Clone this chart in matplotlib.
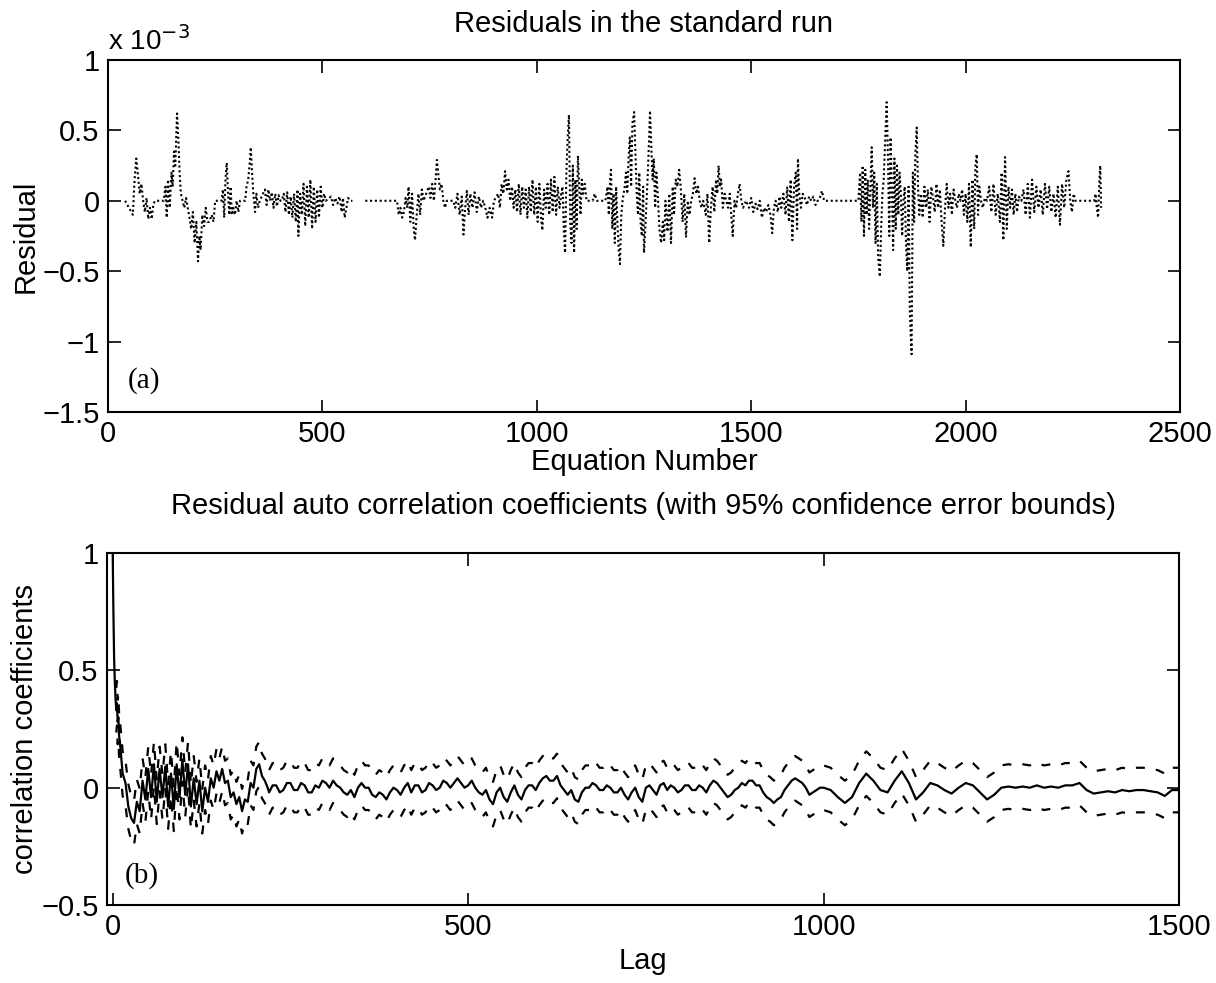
import numpy as np
import matplotlib
matplotlib.use("Agg")
import matplotlib.pyplot as plt

plt.rcParams['font.family'] = ['Liberation Sans', 'DejaVu Sans']

# ---- panel (a): residuals (units of 1e-3) ----
eq_num = [
    40, 58, 62, 66, 70, 74, 78, 82, 86, 90, 94, 98, 102, 106, 110, 130,
    134, 137, 140, 144, 148, 151, 154, 157, 161, 164, 167, 170, 174, 178, 182, 186,
    190, 194, 198, 202, 206, 210, 213, 216, 220, 224, 228, 232, 236, 242, 246, 250, 265,
    268, 271, 274, 277, 280, 283, 286, 289, 292, 296, 300, 304, 308, 320,
    323, 327, 330, 333, 336, 339, 343, 346, 350, 354, 366, 370, 374, 378, 382, 386, 390, 394, 398, 402,
    405, 410, 414, 418, 422, 426, 430, 434, 438, 442, 444, 448, 452, 456, 460, 464, 468, 472, 476, 480,
    484, 488, 492, 496, 500, 504, 508, 520, 525, 530, 535, 540, 545, 548, 552, 556, 560, 565, 570,
    585, 600, 674,
    678, 682, 686, 690, 694, 698, 701, 705, 709, 713, 716, 720, 724, 728, 732, 736, 748, 752, 756, 760,
    764, 767, 770, 774, 778, 782, 786, 790, 805, 810, 815, 820, 825, 829, 833, 837, 841, 845, 850, 855,
    860, 865, 870, 875, 880, 885, 890, 896, 900,
    910, 914, 918, 922, 926, 930, 934, 938, 942, 946, 950, 954, 958, 962, 966, 970, 974, 978, 982, 986,
    990, 994, 998, 1002, 1006, 1010, 1013, 1017, 1021, 1025, 1029, 1033, 1037, 1041, 1045, 1049, 1053, 1057,
    1060, 1063, 1066, 1069, 1072, 1075, 1078, 1081, 1084, 1087, 1090, 1093, 1096, 1099, 1102, 1105, 1108,
    1112, 1116, 1130, 1135, 1140, 1160,
    1165, 1168, 1171, 1173, 1176, 1179, 1182, 1185, 1188, 1191, 1194, 1197, 1200, 1205, 1208, 1211, 1214,
    1217, 1220, 1223, 1227, 1230, 1233, 1236, 1239, 1242, 1245, 1248, 1250, 1253, 1256, 1259, 1262, 1264,
    1267, 1270, 1273, 1276, 1279, 1282, 1286, 1290, 1294, 1297, 1300,
    1305, 1309, 1313, 1317, 1320, 1324, 1328, 1332, 1336, 1340, 1344, 1348, 1352, 1356, 1360, 1364, 1368,
    1372, 1376, 1380, 1384, 1388, 1394, 1398, 1402, 1406, 1410, 1414, 1418, 1421, 1424, 1427, 1430, 1434,
    1438, 1442, 1446, 1450, 1454, 1457, 1461, 1465, 1469, 1473, 1477, 1481,
    1488, 1495, 1500, 1505, 1510, 1515, 1520, 1525, 1530, 1535, 1540, 1545, 1549, 1553, 1557, 1562, 1566,
    1570, 1575, 1580, 1584, 1588, 1592, 1596, 1600, 1604, 1607, 1609, 1612, 1616, 1620, 1625, 1630, 1635,
    1640, 1645, 1650, 1655, 1660, 1665, 1670, 1750,
    1754, 1757, 1760, 1763, 1766, 1769, 1772, 1775, 1778, 1781, 1784, 1787, 1790, 1793, 1796, 1800, 1803,
    1806, 1809, 1812, 1816, 1819, 1822, 1825, 1828, 1831, 1834, 1837, 1840, 1843, 1846, 1849, 1852, 1855,
    1858, 1861, 1864, 1867, 1870, 1874, 1877, 1880, 1883, 1886, 1889, 1892,
    1896, 1900, 1904, 1908, 1912, 1916, 1920, 1924, 1928, 1932, 1936, 1940, 1944, 1948, 1952, 1956, 1960,
    1964, 1968, 1972, 1976, 1980, 1984, 1988, 1992, 1996, 2000, 2004, 2008, 2012, 2016, 2020, 2023, 2026,
    2029, 2032, 2036, 2040, 2045, 2050,
    2055, 2060, 2065, 2070, 2075, 2080, 2084, 2088, 2092, 2096, 2100, 2104, 2108, 2112, 2116, 2120, 2124, 2130,
    2135, 2140, 2145, 2150, 2155, 2160, 2165, 2170, 2175, 2180, 2185, 2190, 2195, 2200, 2205, 2210, 2215,
    2220, 2225, 2230, 2235, 2240, 2244, 2248, 2252, 2256, 2300, 2303, 2306, 2309, 2312, 2314, 2316,
]
residual_e3 = [
    0.0, -0.10, 0.15, 0.30, 0.18, 0.05, 0.12, 0.0, -0.08, 0.02, -0.13, -0.05, -0.13, -0.02, 0.0, 0.0,
    0.10, -0.12, 0.15, -0.05, 0.20, 0.10, 0.35, 0.25, 0.62, 0.45, 0.20, 0.05, 0.0, -0.05, 0.02, -0.05,
    -0.12, -0.20, -0.08, -0.30, -0.15, -0.43, -0.25, -0.35, -0.10, -0.18, -0.05, -0.15, -0.15, -0.10, -0.15, 0.0, 0.0,
    0.08, -0.12, 0.15, 0.27, 0.05, -0.10, 0.10, -0.10, -0.05, -0.10, 0.0, -0.08, 0.0, 0.0,
    0.10, 0.15, 0.25, 0.38, 0.20, 0.05, -0.08, 0.05, -0.05, 0.0, 0.08, -0.03, 0.08, 0.0, 0.06, -0.05, 0.05, -0.04, 0.04, 0.0,
    0.0, 0.05, -0.08, 0.06, -0.10, 0.03, -0.12, 0.05, -0.15, 0.08, -0.25, 0.05, -0.10, 0.12, -0.18, 0.10, -0.12, 0.15, -0.20, 0.10,
    -0.15, 0.08, -0.12, 0.10, -0.05, 0.05, 0.0, 0.03, -0.03, 0.02, -0.02, 0.03, -0.08, 0.02, -0.12, -0.05, 0.02, 0.0, 0.0,
    np.nan, 0.0, 0.0,
    -0.10, -0.05, -0.12, -0.08, 0.02, -0.05, 0.10, -0.15, 0.05, -0.20, -0.28, -0.10, 0.05, -0.10, 0.08, 0.0, 0.10, 0.02, 0.12, 0.0,
    0.15, 0.29, 0.20, 0.08, 0.12, 0.0, -0.05, 0.0, 0.0, -0.05, 0.05, -0.10, 0.03, -0.24, -0.05, 0.07, -0.10, 0.05, -0.05, 0.06,
    -0.08, 0.03, -0.05, 0.0, -0.05, -0.12, -0.05, -0.12, 0.0,
    0.05, -0.05, 0.12, 0.05, 0.21, 0.08, 0.15, 0.0, 0.10, -0.05, 0.08, -0.08, 0.12, -0.10, 0.10, -0.05, 0.08, -0.12, 0.10, -0.08,
    0.15, -0.10, 0.10, -0.15, 0.12, -0.12, -0.21, 0.08, -0.05, 0.12, -0.10, 0.15, -0.08, 0.17, -0.10, 0.10, -0.05, 0.05,
    0.10, -0.20, -0.37, 0.20, 0.45, 0.61, -0.15, -0.30, 0.25, -0.37, 0.15, -0.20, 0.32, 0.10, -0.10, 0.15, 0.05,
    0.12, 0.0, 0.0, 0.05, 0.0, 0.0,
    0.10, -0.10, 0.15, 0.22, -0.20, 0.05, -0.30, 0.10, -0.15, -0.35, -0.45, -0.10, 0.0, 0.10, 0.20, 0.05, 0.30,
    0.45, 0.10, 0.55, 0.63, 0.35, 0.05, -0.10, 0.20, -0.15, -0.25, 0.10, -0.37, -0.20, 0.0, 0.20, 0.45, 0.64,
    0.40, 0.15, 0.30, -0.05, 0.20, 0.05, -0.20, -0.30, -0.15, -0.28, 0.0,
    -0.22, 0.05, -0.30, 0.10, -0.10, 0.15, 0.10, 0.22, 0.08, -0.15, 0.05, -0.26, 0.0, -0.10, 0.0, 0.05, 0.16,
    0.05, 0.10, 0.0, -0.05, 0.0, -0.10, 0.05, -0.30, -0.05, 0.10, -0.08, 0.15, 0.05, 0.25, 0.10, 0.15, -0.05,
    0.05, 0.0, -0.05, 0.05, -0.12, -0.25, 0.0, -0.05, 0.05, 0.12, 0.0, -0.05,
    0.0, -0.05, 0.02, -0.08, -0.02, -0.06, 0.0, -0.12, -0.05, -0.08, -0.03, -0.10, -0.23, -0.05, 0.0, -0.08, 0.03,
    -0.05, 0.05, -0.10, 0.10, -0.15, 0.15, -0.28, 0.10, 0.20, -0.20, 0.30, 0.05, -0.05, 0.05, 0.02, -0.03, 0.03,
    0.0, 0.03, -0.03, 0.0, 0.02, 0.07, 0.0, 0.0,
    0.20, -0.15, 0.25, -0.25, 0.22, -0.10, 0.15, -0.20, 0.10, 0.38, -0.05, 0.20, -0.30, 0.12, -0.40, -0.54, -0.20,
    0.05, 0.15, 0.40, 0.70, 0.30, -0.25, 0.45, 0.10, -0.35, 0.30, -0.20, 0.25, -0.10, 0.20, 0.05, -0.25, 0.0,
    0.10, -0.30, -0.50, 0.10, -0.80, -1.09, 0.20, -0.15, 0.35, 0.52, 0.10, -0.10,
    0.05, -0.12, 0.10, -0.05, 0.08, -0.15, 0.10, 0.02, -0.08, 0.12, -0.05, 0.08, -0.15, -0.32, -0.05, 0.12, -0.05,
    0.05, -0.10, 0.08, 0.0, -0.05, 0.05, 0.0, 0.08, -0.10, 0.05, -0.15, 0.12, -0.33, 0.15, -0.20, 0.25, 0.33,
    -0.10, 0.10, 0.0, -0.05, 0.02, 0.0,
    0.10, -0.08, 0.12, -0.10, 0.05, -0.15, 0.20, -0.28, 0.31, -0.20, 0.10, -0.05, 0.08, -0.10, 0.05, -0.08, 0.03, 0.0,
    0.08, -0.10, 0.12, -0.12, 0.15, -0.08, 0.10, -0.05, 0.08, -0.10, 0.12, -0.06, 0.10, -0.08, 0.05, -0.12, 0.10,
    -0.17, 0.12, -0.05, 0.15, 0.21, 0.0, -0.08, 0.05, 0.0, 0.0, 0.05, -0.05, -0.12, 0.15, 0.25, -0.05,
]
assert len(eq_num) == len(residual_e3)

# ---- panel (b): autocorrelation of residuals ----
acf_head = [1.0, 0.75, 0.55, 0.45, 0.38, 0.33, 0.36, 0.28, 0.30, 0.22]  # lags 0..9
acf_early = [  # lags 10..218, step 4
    0.20, 0.06, 0.02, -0.08, -0.13, -0.15, -0.06, -0.10, 0.03, -0.05,
    0.08, -0.04, 0.10, -0.06, 0.08, -0.04, 0.09, -0.08, 0.06, -0.09,
    0.10, -0.04, 0.12, -0.03, 0.10, -0.08, 0.04, -0.07, 0.03, -0.10,
    0.0, -0.06, 0.04, 0.0, 0.07, 0.03, 0.08, 0.02, 0.03, -0.04,
    -0.02, -0.07, -0.04, -0.10, -0.05, -0.06, 0.02, 0.0, 0.08, 0.10,
    0.05, 0.03, 0.0,
]
acf_mid = [  # lags 220..995, step 5
    -0.02, 0.01, 0.01, -0.02, -0.01, 0.02, 0.02, -0.01, -0.01, 0.02,
    0.01, -0.02, -0.02, 0.01, 0.0, 0.03, 0.02, 0.0, 0.03, 0.01,
    0.0, -0.02, -0.03, -0.01, -0.04, 0.0, 0.02, 0.0, 0.0, -0.03,
    -0.04, -0.02, -0.03, -0.05, -0.02, 0.0, -0.01, -0.03, 0.0, 0.02,
    -0.02, 0.01, 0.01, -0.02, -0.01, 0.02, 0.01, -0.01, 0.0, 0.03,
    0.02, 0.0, 0.02, 0.04, 0.02, 0.0, 0.01, 0.03, 0.0, -0.02,
    -0.03, -0.01, -0.05, -0.07, -0.02, 0.0, -0.04, -0.06, -0.02, 0.01,
    -0.03, -0.05, -0.01, 0.01, 0.01, -0.01, 0.02, 0.04, 0.05, 0.03,
    0.03, 0.05, 0.01, -0.01, -0.03, -0.01, -0.05, -0.06, -0.02, 0.0,
    0.0, 0.02, 0.01, -0.01, -0.01, 0.01, 0.0, -0.02, -0.02, 0.0,
    -0.03, -0.05, -0.02, 0.0, -0.04, -0.06, 0.0, 0.01, -0.01, -0.03,
    0.01, 0.02, -0.01, 0.01, 0.0, -0.02, -0.01, 0.01, 0.01, -0.01,
    -0.01, 0.01, 0.0, -0.02, 0.01, 0.03, 0.02, 0.0, -0.02, -0.04,
    -0.03, -0.01, 0.0, 0.02, 0.01, 0.03, 0.03, 0.01, 0.01, -0.02,
    -0.04, -0.05, -0.065, -0.05, -0.04, -0.01, 0.01, 0.03, 0.04, 0.03,
    0.02, 0.0, -0.03, -0.02, -0.01, 0.0,
]
acf_late = [  # lags 1000..1500, step 10
    0.0, -0.01, -0.04, -0.065, -0.04, 0.02, 0.06, 0.03, -0.01, -0.02,
    0.03, 0.07, 0.02, -0.05, -0.02, 0.02, 0.01, -0.01, -0.025, 0.0,
    0.02, 0.01, -0.02, -0.05, -0.03, 0.0, 0.005, 0.0, 0.005, 0.0,
    0.01, 0.0, 0.005, 0.0, 0.01, 0.01, 0.02, -0.01, -0.025, -0.02,
    -0.015, -0.02, -0.01, -0.015, -0.01, -0.01, -0.015, -0.02, -0.035, -0.01,
    -0.01,
]
bound_halfwidth = 0.095  # 95% confidence band half-width
bound_start = 5  # bounds drawn from this index on

lags = np.concatenate([np.arange(0, 10), np.arange(10, 220, 4),
                       np.arange(220, 1000, 5), np.arange(1000, 1501, 10)])
acf = np.array(acf_head + acf_early + acf_mid + acf_late)
assert len(lags) == len(acf)

fig = plt.figure(figsize=(12.16, 9.83), dpi=100)
fs = 21

# ---- top axes ----
ax1 = fig.add_axes([0.0888, 0.5809, 0.8816, 0.3581])
ax1.plot(eq_num, residual_e3, color='black', linestyle=(0, (1, 1.3)), linewidth=1.5)
ax1.set_xlim(0, 2500)
ax1.set_ylim(-1.5, 1)
ax1.set_xticks([0, 500, 1000, 1500, 2000, 2500])
ax1.set_xticklabels(['0', '500', '1000', '1500', '2000', '2500'])
ax1.set_yticks([-1.5, -1, -0.5, 0, 0.5, 1])
ax1.set_yticklabels(['\u22121.5', '\u22121', '\u22120.5', '0', '0.5', '1'])
ax1.set_title('Residuals in the standard run', fontsize=fs, pad=20)
ax1.set_xlabel('Equation Number', fontsize=fs, labelpad=0)
ax1.set_ylabel('Residual', fontsize=fs, labelpad=2)
ax1.text(0.0, 1.012, r'x 10$^{-3}$', transform=ax1.transAxes, fontsize=fs - 1, va='bottom')
ax1.text(0.018, 0.09, '(a)', transform=ax1.transAxes, fontsize=21, family='Liberation Serif', va='center')

# ---- bottom axes ----
ax2 = fig.add_axes([0.0880, 0.0793, 0.8816, 0.3581])
ax2.plot(lags, acf, color='black', linewidth=1.6)
ax2.plot(lags[bound_start:], acf[bound_start:] + bound_halfwidth, color='black',
         linewidth=1.6, linestyle=(0, (4, 5)))
ax2.plot(lags[bound_start:], acf[bound_start:] - bound_halfwidth, color='black',
         linewidth=1.6, linestyle=(0, (4, 5)))
ax2.set_xlim(-8, 1500)
ax2.set_ylim(-0.5, 1)
ax2.set_xticks([0, 500, 1000, 1500])
ax2.set_xticklabels(['0', '500', '1000', '1500'])
ax2.set_yticks([-0.5, 0, 0.5, 1])
ax2.set_yticklabels(['\u22120.5', '0', '0.5', '1'])
ax2.set_title('Residual auto correlation coefficients (with 95% confidence error bounds)',
              fontsize=fs, pad=28)
ax2.set_xlabel('Lag', fontsize=fs, labelpad=4)
ax2.set_ylabel('correlation coefficients', fontsize=fs, labelpad=2)
ax2.text(0.017, 0.085, '(b)', transform=ax2.transAxes, fontsize=21, family='Liberation Serif', va='center')

for ax in (ax1, ax2):
    ax.tick_params(direction='in', top=True, right=True, length=9, width=1.2, labelsize=fs, pad=6)
    for s in ax.spines.values():
        s.set_linewidth(1.5)

fig.savefig('out.png', dpi=100)
